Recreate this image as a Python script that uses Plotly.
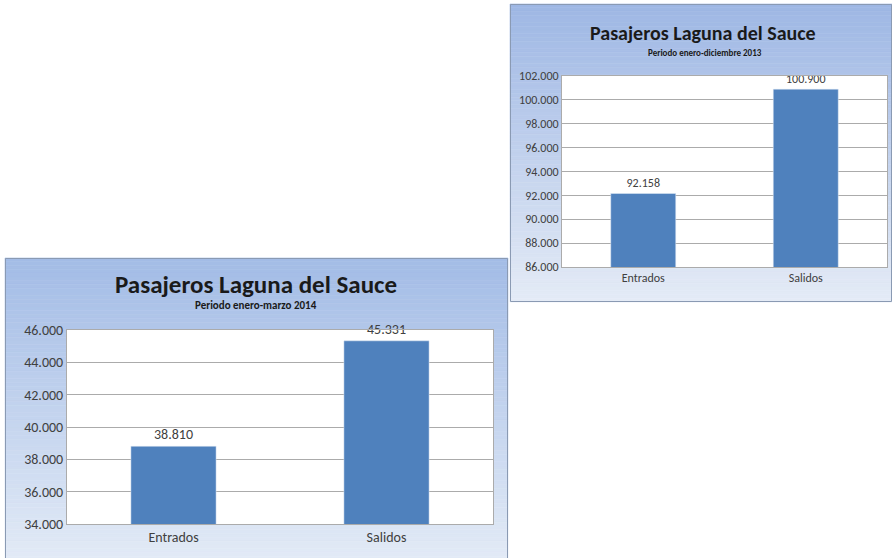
import plotly.graph_objects as go

# ---- data ----
categories = ["Entrados", "Salidos"]
values_2013 = [92158, 100900]
values_2014 = [38810, 45331]
title_text = "Pasajeros Laguna del Sauce"
subtitle_2013 = "Periodo enero-diciembre 2013"
subtitle_2014 = "Periodo enero-marzo 2014"
range_2013 = [86000, 102000]
range_2014 = [34000, 46000]
dtick_2013 = 2000
dtick_2014 = 2000

W, H = 892, 558
FONT = "Carlito, Calibri, Lato, sans-serif"
BAR = "#4f81bd"
GRID = "#ababab"
TXT = "#404040"


def px_x(p):
    return p / W


def px_y(p):
    return 1 - p / H


fig = go.Figure()

# top-right chart (2013)
fig.add_trace(go.Bar(
    x=categories, y=values_2013, marker_color=BAR, width=0.4,
    texttemplate="%{y:,.0f}", textposition="outside", cliponaxis=False,
    textfont=dict(size=12, color=TXT, family=FONT),
    xaxis="x", yaxis="y", showlegend=False, hoverinfo="x+y"))

# bottom-left chart (2014)
fig.add_trace(go.Bar(
    x=categories, y=values_2014, marker_color=BAR, width=0.4,
    texttemplate="%{y:,.0f}", textposition="outside", cliponaxis=False,
    textfont=dict(size=14, color=TXT, family=FONT),
    xaxis="x2", yaxis="y2", showlegend=False, hoverinfo="x+y"))


def panel_shapes(x0, y0, x1, y1, c_top, c_bot, n=80):
    shapes = []
    for i in range(n):
        t = i / (n - 1)
        r = round(c_top[0] + (c_bot[0] - c_top[0]) * t)
        g = round(c_top[1] + (c_bot[1] - c_top[1]) * t)
        b = round(c_top[2] + (c_bot[2] - c_top[2]) * t)
        ya = y0 + (y1 - y0) * i / n
        yb = y0 + (y1 - y0) * (i + 1) / n
        shapes.append(dict(type="rect", xref="paper", yref="paper",
                           x0=px_x(x0), x1=px_x(x1), y0=px_y(ya), y1=px_y(yb),
                           fillcolor=f"rgb({r},{g},{b})",
                           line=dict(width=0.6, color=f"rgb({r},{g},{b})"),
                           layer="below"))
    shapes.append(dict(type="rect", xref="paper", yref="paper",
                       x0=px_x(x0 + 0.5), x1=px_x(x1 - 0.5),
                       y0=px_y(y0 + 0.5), y1=px_y(y1 - 0.5),
                       line=dict(color="#8a9ab3", width=1), layer="below"))
    return shapes


shapes = []
shapes += panel_shapes(510, 4, 892, 302, (158, 183, 228), (228, 235, 246))
shapes += panel_shapes(5, 258, 508, 560, (163, 188, 230), (226, 234, 246))

# plot area white fill
for (xa, xb, ya, yb) in [(562, 887, 76, 267), (67, 493, 330, 524)]:
    shapes.append(dict(type="rect", xref="paper", yref="paper",
                       x0=px_x(xa), x1=px_x(xb), y0=px_y(yb), y1=px_y(ya),
                       fillcolor="white", line=dict(width=0), layer="below"))

annotations = [
    dict(text=f"<b>{title_text}</b>", x=px_x(703), y=px_y(33), xref="paper", yref="paper",
         showarrow=False, xanchor="center", yanchor="middle",
         font=dict(size=20, color="#1a1a1a", family=FONT)),
    dict(text=f"<b>{subtitle_2013}</b>", x=px_x(705), y=px_y(53), xref="paper", yref="paper",
         showarrow=False, xanchor="center", yanchor="middle",
         font=dict(size=9, color="#1a1a1a", family=FONT)),
    dict(text=f"<b>{title_text}</b>", x=px_x(256), y=px_y(284), xref="paper", yref="paper",
         showarrow=False, xanchor="center", yanchor="middle",
         font=dict(size=25, color="#1a1a1a", family=FONT)),
    dict(text=f"<b>{subtitle_2014}</b>", x=px_x(256), y=px_y(305), xref="paper", yref="paper",
         showarrow=False, xanchor="center", yanchor="middle",
         font=dict(size=11, color="#1a1a1a", family=FONT)),
]

axis_common = dict(showline=True, mirror=True, linecolor=GRID, linewidth=1,
                   automargin=False)

fig.update_layout(
    width=W, height=H, autosize=False,
    margin=dict(l=0, r=0, t=0, b=0, pad=0, autoexpand=False),
    paper_bgcolor="white", plot_bgcolor="rgba(0,0,0,0)",
    separators=",.",
    shapes=shapes, annotations=annotations,
    xaxis=dict(domain=[px_x(562), px_x(887)], anchor="y", showgrid=False,
               ticks="", tickfont=dict(size=12, color=TXT, family=FONT),
               **axis_common),
    yaxis=dict(domain=[px_y(267), px_y(76)], anchor="x", range=range_2013,
               dtick=dtick_2013, tickformat=",.0f", showgrid=True,
               gridcolor=GRID, gridwidth=1.4, ticks="",
               tickfont=dict(size=12, color=TXT, family=FONT), **axis_common),
    xaxis2=dict(domain=[px_x(67), px_x(493)], anchor="y2", showgrid=False,
                ticks="", tickfont=dict(size=14, color=TXT, family=FONT),
                **axis_common),
    yaxis2=dict(domain=[px_y(524), px_y(330)], anchor="x2", range=range_2014,
                dtick=dtick_2014, tickformat=",.0f", showgrid=True,
                gridcolor=GRID, gridwidth=1.4, ticks="",
                tickfont=dict(size=14, color=TXT, family=FONT), **axis_common),
)

fig.write_html(
    "out.html",
    config={"displayModeBar": False},
    post_script="document.body.style.margin='0';document.body.style.overflow='hidden';",
)
